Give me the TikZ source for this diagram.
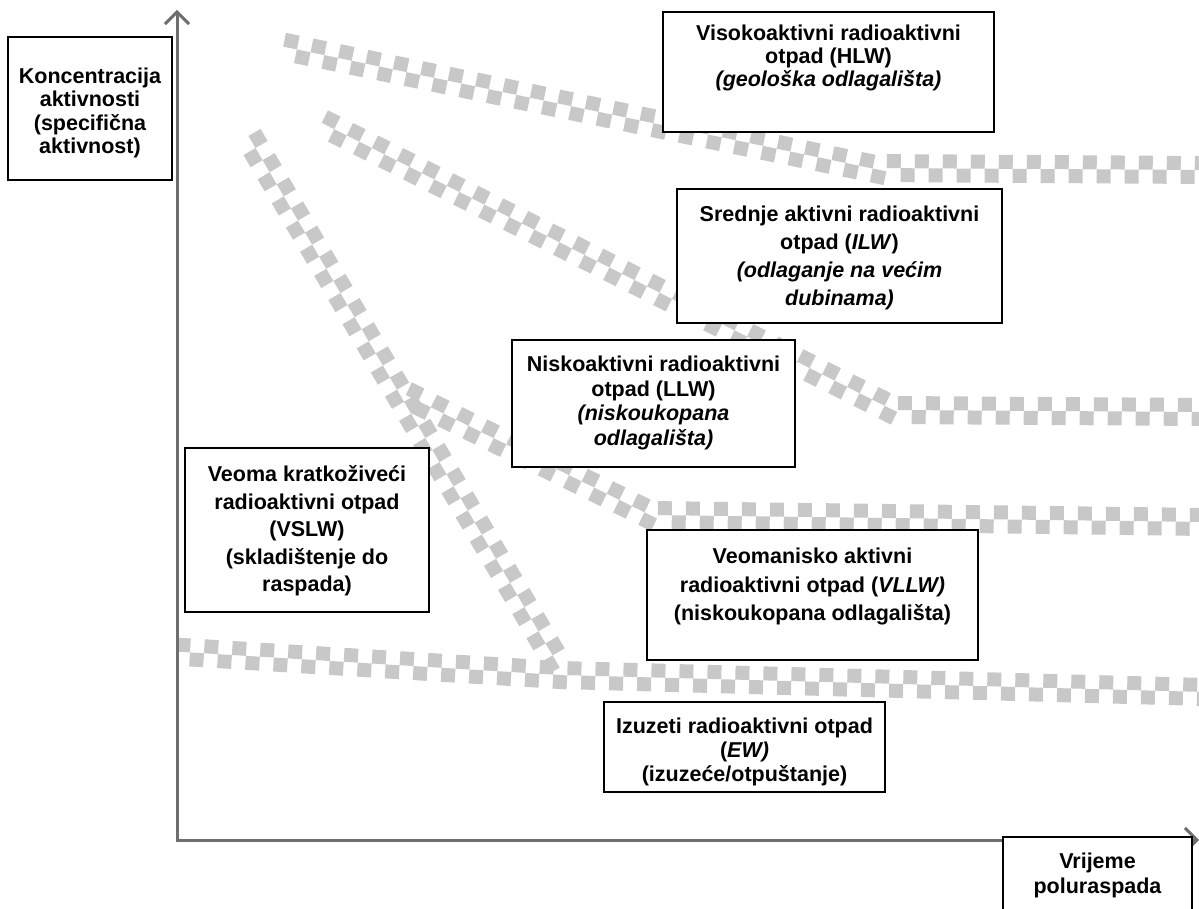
\documentclass[tikz,border=0pt]{standalone}
\usepackage{fontspec}
\setmainfont{Liberation Sans}
\usetikzlibrary{arrows.meta}
\usetikzlibrary{decorations.markings}

\definecolor{trakasiva}{HTML}{C8C8C8}
\definecolor{ossiva}{HTML}{6E6E6E}

\tikzset{
  okvir/.style={draw=black, line width=2.5pt, fill=white, inner sep=0pt},
  tekst/.style={align=center, inner sep=0pt, font=\bfseries\fontsize{21.5pt}{#1}\selectfont},
  tekst/.default=24pt,
  traka/.style={postaction={decorate}, decoration={markings,
    mark=between positions 0 and 1 step 28pt with {
      \fill[trakasiva] (-7pt,0pt) rectangle (7pt,14pt);
      \fill[trakasiva] (7pt,-14pt) rectangle (21pt,0pt);}}},
  os/.style={draw=ossiva, line width=3pt}
}

\begin{document}
\begin{tikzpicture}[x=1pt,y=-1pt]
\clip (0,0) rectangle (1199,909);

% trake
\path[traka] (290,48) -- (870,168) -- (1205,170);
\path[traka] (328,126) -- (893,410) -- (1205,412);
\path[traka] (412,398) -- (650,515) -- (1205,522);
\path[traka] (252,142) -- (560,668);
\path[traka] (183,652) -- (560,675) -- (1205,692);

% osi
\coordinate (vrhy) at (177,10);
\coordinate (ishod) at (177,840);
\coordinate (krajx) at (1199,840);
\draw[os, {Straight Barb[length=12pt,width=24pt]}-{Straight Barb[length=12pt,width=24pt]}] (vrhy) -- (ishod) -- (krajx);

% okviri
\node[okvir, minimum width=164pt, minimum height=143pt] (konc) at (90,108.5) {};
\node[tekst=23.5pt] (konct) at (90,113) {Koncentracija\\aktivnosti\\(specifična\\aktivnost)};

\node[okvir, minimum width=331pt, minimum height=120pt] (hlw) at (828.5,72) {};
\node[tekst=23pt] (hlwt) at (828.5,58) {Visokoaktivni radioaktivni\\otpad (HLW)\\\textit{(geološka odlagališta)}};

\node[okvir, minimum width=325pt, minimum height=134pt] (ilw) at (839.5,256) {};
\node[tekst=28pt] (ilwt) at (839.5,258) {Srednje aktivni radioaktivni\\otpad (\textit{ILW})\\\textit{(odlaganje na većim}\\\textit{dubinama)}};

\node[okvir, minimum width=283pt, minimum height=127pt] (llw) at (653.5,403.5) {};
\node[tekst=24.7pt] (llwt) at (653.5,403) {Niskoaktivni radioaktivni\\otpad (LLW)\\\textit{(niskoukopana}\\\textit{odlagališta)}};

\node[okvir, minimum width=244pt, minimum height=164pt] (vslw) at (307,530) {};
\node[tekst=27.5pt] (vslwt) at (307,531) {Veoma kratkoživeći\\radioaktivni otpad\\(VSLW)\\(skladištenje do\\raspada)};

\node[okvir, minimum width=331pt, minimum height=130pt] (vllw) at (812.5,595) {};
\node[tekst=28.5pt] (vllwt) at (812.5,586.5) {Veomanisko aktivni\\radioaktivni otpad (\textit{VLLW)}\\(niskoukopana odlagališta)};

\node[okvir, minimum width=281pt, minimum height=90pt] (ew) at (744.5,747) {};
\node[tekst] (ewt) at (744.5,752) {Izuzeti radioaktivni otpad\\(\textit{EW)}\\(izuzeće/otpuštanje)};

\node[okvir, minimum width=189pt, minimum height=100pt] (vrijeme) at (1097.5,887) {};
\node[tekst=25pt] (vrijemet) at (1097.5,875.5) {Vrijeme\\poluraspada};

\end{tikzpicture}
\end{document}
